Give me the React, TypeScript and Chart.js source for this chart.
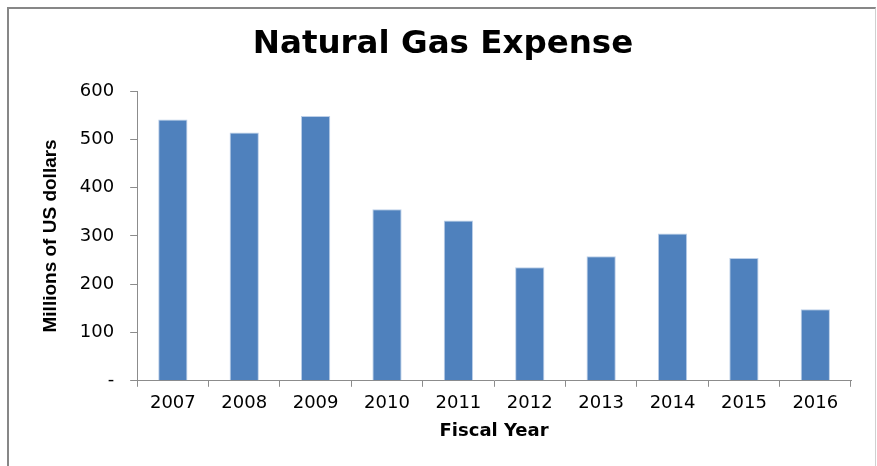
import React, { useEffect, useRef } from "react";
import { Chart, registerables } from "chart.js";

Chart.register(...registerables);

const categories = ["2007", "2008", "2009", "2010", "2011", "2012", "2013", "2014", "2015", "2016"];
const expense = [541, 514, 548, 355, 332, 235, 258, 305, 254, 148];
const yTicks = [0, 100, 200, 300, 400, 500, 600];

export default function App() {
  const ref = useRef<HTMLCanvasElement | null>(null);
  useEffect(() => {
    if (!ref.current) return;
    const chart = new Chart(ref.current, {
      type: "bar",
      data: {
        labels: categories,
        datasets: [
          {
            label: "Natural Gas Expense",
            data: expense,
            backgroundColor: "#4F81BD",
            borderColor: "#bccfe8",
            borderWidth: 1,
            barPercentage: 0.41,
            categoryPercentage: 1,
          },
        ],
      },
      options: {
        responsive: false,
        animation: false,
        layout: { padding: { left: 26, right: 24, top: 0, bottom: 20 } },
        plugins: {
          legend: { display: false },
          tooltip: { enabled: false },
          title: {
            display: true,
            text: "Natural Gas Expense",
            color: "#000",
            font: { family: "'DejaVu Sans'", size: 32.5, weight: "bold" },
            padding: { top: 16, bottom: 27 },
          },
        },
        scales: {
          x: {
            grid: {
              display: true,
              drawOnChartArea: false,
              drawTicks: true,
              tickLength: 6,
              color: "#8c8c8c",
              offset: true,
            },
            border: { display: true, color: "#8c8c8c", width: 1 },
            ticks: {
              color: "#000",
              font: { family: "'DejaVu Sans'", size: 18 },
              padding: 6,
            },
            title: {
              display: true,
              text: "Fiscal Year",
              color: "#000",
              font: { family: "'DejaVu Sans'", size: 18, weight: "bold" },
              padding: { top: 0, bottom: 4 },
            },
          },
          y: {
            min: 0,
            max: 600,
            afterBuildTicks: (axis: any) => {
              axis.ticks = yTicks.map((v) => ({ value: v }));
            },
            grid: {
              display: true,
              drawOnChartArea: false,
              drawTicks: true,
              tickLength: 7,
              color: "#8c8c8c",
            },
            border: { display: true, color: "#8c8c8c", width: 1 },
            ticks: {
              color: "#000",
              font: { family: "'DejaVu Sans'", size: 18 },
              padding: 16,
              callback: (v: any) => (Number(v) === 0 ? "-" : String(v)),
            },
            title: {
              display: true,
              text: "Millions of US dollars",
              color: "#000",
              font: { family: "'Liberation Sans'", size: 19, weight: "bold" },
              padding: { top: 4, bottom: 2 },
            },
          },
        },
      },
    });
    return () => chart.destroy();
  }, []);
  return (
    <div
      style={{
        position: "absolute",
        left: 7,
        top: 7,
        width: 866,
        height: 457,
        borderTop: "2px solid #878787",
        borderLeft: "2px solid #878787",
        borderRight: "1px solid #d0d0d0",
        background: "#fff",
      }}
    >
      <canvas ref={ref} width={866} height={457} style={{ display: "block" }} />
    </div>
  );
}
